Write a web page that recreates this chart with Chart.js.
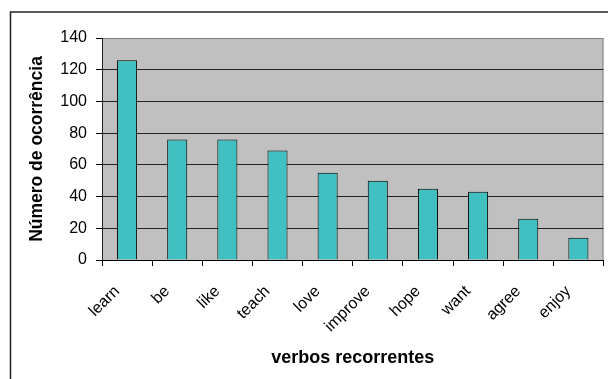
<!DOCTYPE html>
<html lang="pt">
<head>
    <meta charset="UTF-8">
    <title>Verbos recorrentes</title>
    <style>
        body {
            margin: 0;
            background: #fff;
        }
        #wrap {
            width: 608px;
            height: 379px;
        }
    </style>
    <script src="https://cdn.jsdelivr.net/npm/chart.js"></script>
</head>
<body>
    <div id="wrap"><canvas id="myChart"></canvas></div>

    <script>
        // verbs and how often each one shows up
        const verbos = ["learn", "be", "like", "teach", "love", "improve", "hope", "want", "agree", "enjoy"];
        const ocorrencias = [126, 76, 76, 69, 55, 50, 45, 43, 26, 14];
        const yMin = 0;
        const yMax = 140;
        const yStep = 20;

        const FONT = "'Liberation Sans', Arial, sans-serif";

        // gray plot area + frame around the whole chart
        const plotBackground = {
            id: 'plotBackground',
            beforeDraw(chart) {
                const {ctx, chartArea: a} = chart;
                ctx.save();
                ctx.strokeStyle = '#222';
                ctx.lineWidth = 1.5;
                ctx.beginPath();
                ctx.moveTo(10.5, chart.height);
                ctx.lineTo(10.5, 12);
                ctx.lineTo(chart.width, 12);
                ctx.stroke();

                ctx.fillStyle = '#C0C0C0';
                ctx.fillRect(a.left, a.top, a.right - a.left, a.bottom - a.top);
                ctx.strokeStyle = '#808080';
                ctx.lineWidth = 1;
                ctx.strokeRect(a.left + 0.5, a.top + 0.5, a.right - a.left - 1, a.bottom - a.top);
                ctx.restore();
            }
        };

        const ctx = document.getElementById('myChart').getContext('2d');
        new Chart(ctx, {
            type: 'bar',
            data: {
                labels: verbos,
                datasets: [{
                    data: ocorrencias,
                    backgroundColor: '#40C0C0',
                    borderColor: '#000',
                    borderWidth: 1,
                    barPercentage: 0.4,
                    categoryPercentage: 1
                }]
            },
            options: {
                responsive: true,
                maintainAspectRatio: false,
                animation: false,
                layout: {
                    padding: {left: 0, top: 38, right: 1, bottom: 0}
                },
                plugins: {
                    legend: {display: false},
                    tooltip: {enabled: false}
                },
                scales: {
                    x: {
                        afterFit(scale) { scale.height = 119; },
                        grid: {
                            offset: true,
                            drawOnChartArea: false,
                            tickLength: 6,
                            tickColor: '#000'
                        },
                        border: {color: '#000'},
                        ticks: {
                            minRotation: 45,
                            maxRotation: 45,
                            padding: 16,
                            labelOffset: -10,
                            color: '#000',
                            font: {family: FONT, size: 16}
                        },
                        title: {
                            display: true,
                            text: 'verbos recorrentes',
                            color: '#000',
                            padding: {top: 0, bottom: 10},
                            font: {family: FONT, size: 18, weight: 'bold'}
                        }
                    },
                    y: {
                        min: yMin,
                        max: yMax,
                        afterFit(scale) { scale.width = 102; },
                        ticks: {
                            stepSize: yStep,
                            padding: 9,
                            color: '#000',
                            font: {family: FONT, size: 16}
                        },
                        grid: {
                            color: (c) => c.tick && c.tick.value === yMax ? '#808080' : '#222',
                            tickLength: 6,
                            tickColor: '#000'
                        },
                        border: {color: '#222'},
                        title: {
                            display: true,
                            text: 'Número de ocorrência',
                            color: '#000',
                            padding: {top: 27, bottom: 0},
                            font: {family: FONT, size: 17.5, weight: 'bold'}
                        }
                    }
                }
            },
            plugins: [plotBackground]
        });
    </script>
</body>
</html>
